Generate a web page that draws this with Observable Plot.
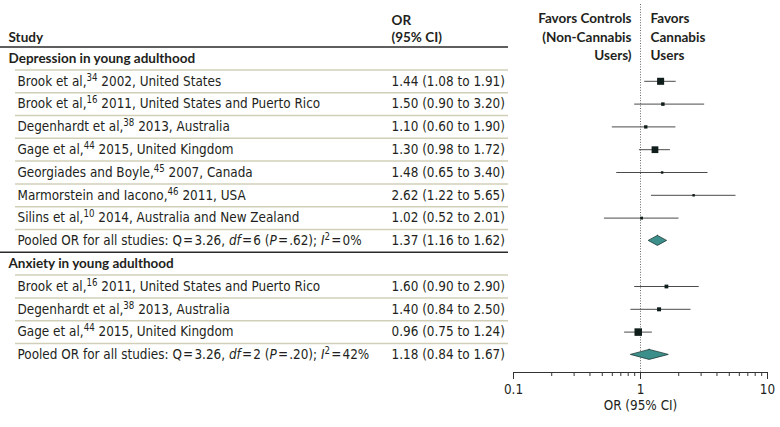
<!DOCTYPE html>
<html>
<head>
<meta charset="utf-8">
<script src="https://cdn.jsdelivr.net/npm/d3@7"></script>
<script src="https://cdn.jsdelivr.net/npm/@observablehq/plot@0.6"></script>
<style>
  html, body { margin: 0; padding: 0; background: #fff; }
</style>
</head>
<body>
<div id="chart"></div>
<script>
// ---------------- data ----------------
const groups = ["Depression in young adulthood", "Anxiety in young adulthood"];
const studyGroup = [0, 0, 0, 0, 0, 0, 0, 1, 1, 1];
const studyNames = [
  "Brook et al,{34} 2002, United States",
  "Brook et al,{16} 2011, United States and Puerto Rico",
  "Degenhardt et al,{38} 2013, Australia",
  "Gage et al,{44} 2015, United Kingdom",
  "Georgiades and Boyle,{45} 2007, Canada",
  "Marmorstein and Iacono,{46} 2011, USA",
  "Silins et al,{10} 2014, Australia and New Zealand",
  "Brook et al,{16} 2011, United States and Puerto Rico",
  "Degenhardt et al,{38} 2013, Australia",
  "Gage et al,{44} 2015, United Kingdom"
];
const studyOR = [1.44, 1.50, 1.10, 1.30, 1.48, 2.62, 1.02, 1.60, 1.40, 0.96];
const studyLo = [1.08, 0.90, 0.60, 0.98, 0.65, 1.22, 0.52, 0.90, 0.84, 0.75];
const studyHi = [1.91, 3.20, 1.90, 1.72, 3.40, 5.65, 2.01, 2.90, 2.50, 1.24];
const studyWeight = [49, 12, 11, 45, 6, 6, 8, 14, 16, 56]; // relative weight (marker area)
const pooledLabels = [
  "Pooled OR for all studies: Q\u200A=\u200A3.26, *df*\u200A=\u200A6 (*P*\u200A=\u200A.62); *I*{2}\u200A=\u200A0%",
  "Pooled OR for all studies: Q\u200A=\u200A3.26, *df*\u200A=\u200A2 (*P*\u200A=\u200A.20); *I*{2}\u200A=\u200A42%"
];
const pooledOR = [1.37, 1.18];
const pooledLo = [1.16, 0.84];
const pooledHi = [1.62, 1.67];
const xDomain = [0.1, 10];
const xTicks = [0.1, 1, 10];
const nullValue = 1;
const axisLabel = "OR (95% CI)";
const colStudy = "Study";
const colOR = ["OR", "(95% CI)"];
const favorsLeft = ["Favors Controls", "(Non-Cannabis", "Users)"];
const favorsRight = ["Favors", "Cannabis", "Users"];

// ---------------- layout ----------------
const FONT = "'DejaVu Sans Condensed', 'DejaVu Sans', sans-serif";
const BOLD_FONT = "Lato, 'DejaVu Sans Condensed', sans-serif";
const FS = 13.4;
const BFS = 13.5;
const fmt = v => v.toFixed(2);

const rows = [];
let idx = 0;
groups.forEach((g, gi) => {
  rows.push({kind: "group", label: g, y: idx++});
  studyNames.forEach((n, i) => {
    if (studyGroup[i] !== gi) return;
    rows.push({kind: "study", label: n, or: studyOR[i], lo: studyLo[i], hi: studyHi[i], w: studyWeight[i], y: idx++});
  });
  rows.push({kind: "pooled", label: pooledLabels[gi], or: pooledOR[gi], lo: pooledLo[gi], hi: pooledHi[gi], y: idx++, g: gi});
});
rows.forEach(r => { if (r.or !== undefined) r.orText = `${fmt(r.or)} (${fmt(r.lo)} to ${fmt(r.hi)})`; });

const studyRows = rows.filter(r => r.kind === "study");
const pooledRows = rows.filter(r => r.kind === "pooled");
const groupRows = rows.filter(r => r.kind === "group");
const labelRows = rows.filter(r => r.kind !== "group");
const lastY = rows[rows.length - 1].y;

const lightLines = rows.filter(r => r.kind !== "pooled").map(r => r.y + 0.5);
const darkLines = [-0.5].concat(pooledRows.filter(r => r.y !== lastY).map(r => r.y + 0.5));

const H = 0.22; // diamond half-height in rows
const diamond = pooledRows.flatMap(r => [
  {g: r.g, y: r.y - H, x1: r.or, x2: r.or},
  {g: r.g, y: r.y, x1: r.lo, x2: r.hi},
  {g: r.g, y: r.y + H, x1: r.or, x2: r.or}
]);

const minorTicks = d3.scaleLog().domain(xDomain).ticks().filter(t => !xTicks.some(m => Math.abs(m - t) < 1e-9));
const xMid = Math.sqrt(xDomain[0] * xDomain[1]);

const yDomain = [-2.544, 13.772];
const headY = i => -1.74 + i * 0.805;

const W = 780, HEIGHT = 427, MB = 55;
const ink = "#231f20";
const bold = {fontFamily: BOLD_FONT, fontWeight: "bold", fontSize: BFS, fill: ink};
const reg = {fontSize: FS, fill: ink};

const chart = Plot.plot({
  width: W,
  height: HEIGHT,
  marginTop: 0,
  marginBottom: MB,
  marginLeft: 0,
  marginRight: 0,
  style: {fontFamily: FONT, fontSize: FS + "px", color: ink, background: "#fff", overflow: "visible"},
  x: {type: "log", domain: xDomain, range: [513, 767], axis: null},
  y: {domain: yDomain, range: [0, HEIGHT - MB], axis: null},
  r: {type: "sqrt", domain: [0, d3.max(studyWeight)], range: [0, 4.25]},
  marks: [
    // table rules
    Plot.ruleY(lightLines, {stroke: "#d2cfb8", strokeWidth: 1.5, insetLeft: 15, insetRight: W - 508}),
    Plot.ruleY(darkLines, {stroke: "#2a2a2a", strokeWidth: 1.5, insetRight: W - 508}),
    // null line
    Plot.ruleX([nullValue], {stroke: "#666", strokeDasharray: "1,1.6", strokeWidth: 1, insetTop: 4}),
    // CIs
    Plot.ruleY(studyRows, {y: "y", x1: "lo", x2: "hi", stroke: "#4a4a4a", strokeWidth: 1}),
    Plot.dot(studyRows, {x: "or", y: "y", r: "w", symbol: "square", fill: "#0f1d1b", stroke: "none"}),
    Plot.areaX(diamond, {y: "y", x1: "x1", x2: "x2", z: "g", fill: "#3c8f8a", stroke: "#1d3a37", strokeWidth: 0.8}),
    // axis
    Plot.ruleY([yDomain[1]], {x1: xDomain[0], x2: xDomain[1], stroke: "#333", strokeWidth: 1}),
    Plot.axisX(minorTicks, {tickSize: 4, tickFormat: () => "", stroke: "#333", label: null}),
    Plot.axisX(xTicks, {tickSize: 7, tickPadding: 5, tickFormat: d => String(d), fontSize: FS, fill: ink, stroke: "#333", label: null}),
    Plot.text([axisLabel], {x: () => xMid, frameAnchor: "bottom", dy: 37, ...reg}),
    // table text
    Plot.text([colStudy], {frameAnchor: "left", y: headY(1), dx: 8, ...bold}),
    Plot.text(colOR, {frameAnchor: "left", y: (d, i) => -1.667 + i * 0.733, dx: 391, ...bold}),
    Plot.text(groupRows, {frameAnchor: "left", y: "y", text: "label", dx: 8, ...bold}),
    Plot.text(labelRows, {frameAnchor: "left", y: "y", text: "label", dx: 17, ...reg}),
    Plot.text(labelRows, {frameAnchor: "left", y: "y", text: "orText", dx: 391, ...reg}),
    // favors headers
    Plot.text(favorsLeft, {x: () => nullValue, y: (d, i) => headY(i), dx: -9, textAnchor: "end", ...bold}),
    Plot.text(favorsRight, {x: () => nullValue, y: (d, i) => headY(i), dx: 10, textAnchor: "start", ...bold})
  ]
});

// rich text: {superscript} and *italic*
const SVGNS = "http://www.w3.org/2000/svg";
d3.select(chart).selectAll("text").each(function () {
  if (this.children.length) return;
  const s = this.textContent;
  if (!/[{*]/.test(s)) return;
  const parts = s.split(/(\{[^}]*\}|\*[^*]*\*)/).filter(p => p !== "");
  this.textContent = "";
  let shifted = false;
  for (const p of parts) {
    const t = document.createElementNS(SVGNS, "tspan");
    if (p.startsWith("{")) {
      t.textContent = p.slice(1, -1);
      t.setAttribute("font-size", "0.72em");
      t.setAttribute("dy", "-5");
      shifted = true;
    } else {
      if (p.startsWith("*")) { t.textContent = p.slice(1, -1); t.setAttribute("font-style", "italic"); }
      else t.textContent = p;
      if (shifted) { t.setAttribute("dy", "5"); shifted = false; }
    }
    this.appendChild(t);
  }
});

document.getElementById("chart").appendChild(chart);
</script>
</body>
</html>
